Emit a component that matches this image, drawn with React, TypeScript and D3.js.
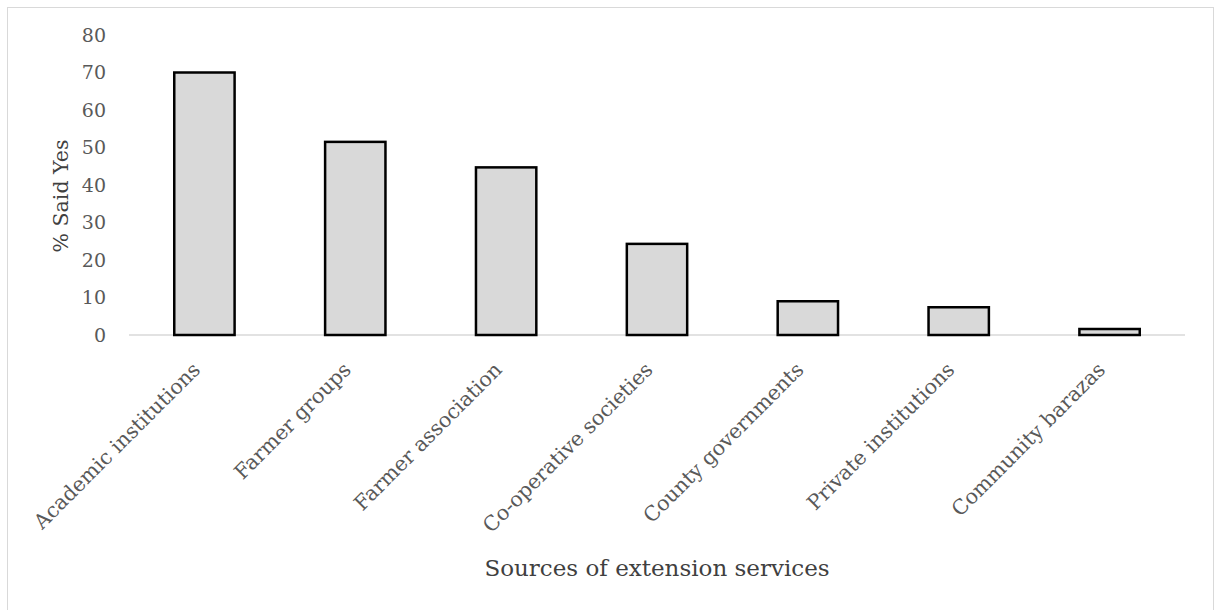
import React from "react";
import * as d3 from "d3";

const categories = [
  "Academic institutions",
  "Farmer groups",
  "Farmer association",
  "Co-operative societies",
  "County governments",
  "Private institutions",
  "Community barazas",
];
const values = [70, 51.5, 44.7, 24.3, 9.0, 7.4, 1.6];
const yTicks = [0, 10, 20, 30, 40, 50, 60, 70, 80];
const yTitle = "% Said Yes";
const xTitle = "Sources of extension services";

const W = 1216;
const H = 610;
const FONT = "'DejaVu Serif', serif";

export default function App() {
  const plotLeft = 129;
  const plotRight = 1185;
  const plotTop = 35;
  const plotBottom = 335;

  const x = d3.scaleBand<string>().domain(categories).range([plotLeft, plotRight]).paddingInner(0.6).paddingOuter(0.3);
  const y = d3.scaleLinear().domain([0, 80]).range([plotBottom, plotTop]);

  return (
    <svg width={W} height={H} style={{ position: "absolute", left: 0, top: 0, background: "#fff" }}>
      <rect x={7.5} y={7.5} width={1206} height={620} fill="#fff" stroke="#d9d9d9" strokeWidth={1} />
      {yTicks.map((t) => (
        <text key={t} x={106} y={y(t)} dy="0.35em" textAnchor="end" fontFamily={FONT} fontSize={19} fill="#595959">
          {t}
        </text>
      ))}
      <line x1={plotLeft} x2={plotRight} y1={y(0)} y2={y(0)} stroke="#d9d9d9" strokeWidth={1.5} />
      {categories.map((c, i) => (
        <rect
          key={c}
          x={x(c)!}
          y={y(values[i])}
          width={x.bandwidth()}
          height={y(0) - y(values[i])}
          fill="#d9d9d9"
          stroke="#000"
          strokeWidth={2.5}
        />
      ))}
      {categories.map((c) => {
        const cx = x(c)! + x.bandwidth() / 2 - 3;
        const cy = 371;
        return (
          <text
            key={c}
            transform={`translate(${cx},${cy}) rotate(-45)`}
            textAnchor="end"
            fontFamily={FONT}
            fontSize={20.5}
            fill="#595959"
          >
            {c}
          </text>
        );
      })}
      <text
        transform={`translate(${68},${196}) rotate(-90)`}
        textAnchor="middle"
        fontFamily={FONT}
        fontSize={20.5}
        fill="#404040"
      >
        {yTitle}
      </text>
      <text x={(plotLeft + plotRight) / 2} y={576} textAnchor="middle" fontFamily={FONT} fontSize={23} fill="#404040">
        {xTitle}
      </text>
    </svg>
  );
}
